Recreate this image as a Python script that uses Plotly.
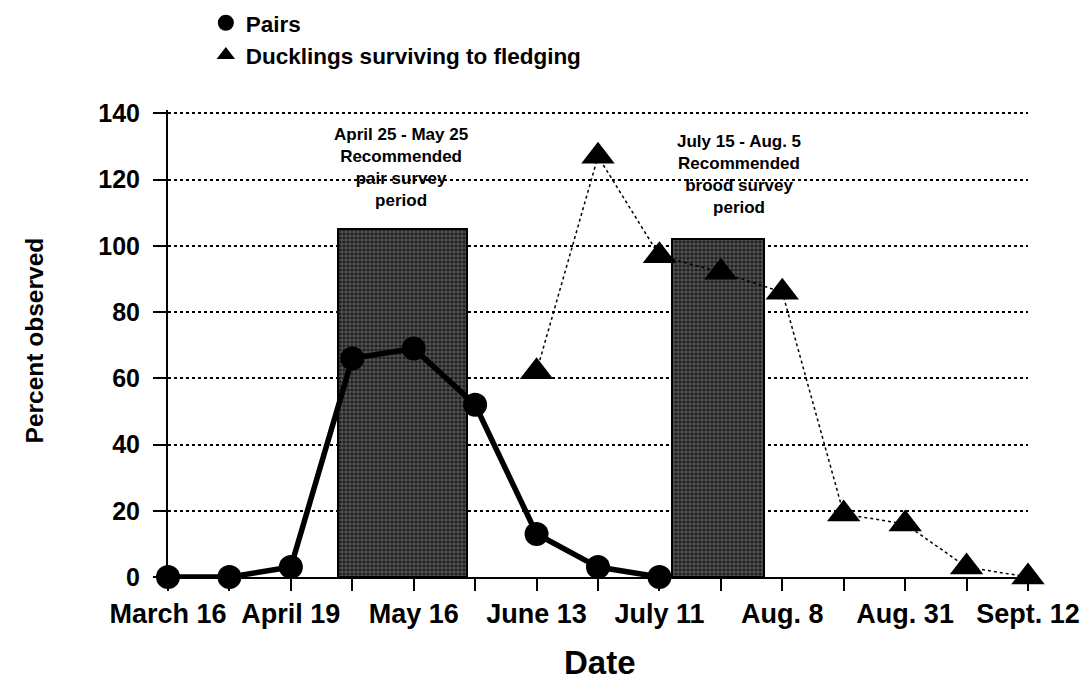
import plotly.graph_objects as go

# ---- data ----
idx = list(range(15))
tick_labels = ["March 16", "", "April 19", "", "May 16", "", "June 13", "",
               "July 11", "", "Aug. 8", "", "Aug. 31", "", "Sept. 12"]
y_ticks = [0, 20, 40, 60, 80, 100, 120, 140]
pairs_x = [0, 1, 2, 3, 4, 5, 6, 7, 8]
pairs_y = [0, 0, 3, 66, 69, 52, 13, 3, 0]
duck_x = [6, 7, 8, 9, 10, 11, 12, 13, 14]
duck_y = [62, 127, 97, 92, 86, 19, 16, 3, 0]
period_center = [3.82, 8.95]
period_width = [2.1, 1.5]
period_height = [105, 102]
period_text = ["April 25 - May 25<br>Recommended<br>pair survey<br>period",
               "July 15 - Aug. 5<br>Recommended<br>brood survey<br>period"]
period_text_x = [3.8, 9.3]
period_text_y = [137, 135]

FONT = "Liberation Sans, Arial, sans-serif"

fig = go.Figure()

fig.add_trace(go.Bar(
    x=period_center, y=period_height, width=period_width,
    marker=dict(color="#202020", line=dict(color="black", width=2),
                pattern=dict(shape="+", fgcolor="#d0d0d0", bgcolor="#202020",
                             size=4, solidity=0.3)),
    showlegend=False, hoverinfo="skip"))

fig.add_trace(go.Scatter(
    x=duck_x, y=duck_y, mode="lines+markers",
    line=dict(color="black", width=1.5, dash="dot"),
    marker=dict(symbol="triangle-up", size=29, color="black"),
    cliponaxis=False, showlegend=False))

fig.add_trace(go.Scatter(
    x=pairs_x, y=pairs_y, mode="lines+markers",
    line=dict(color="black", width=5.5),
    marker=dict(symbol="circle", size=24, color="black"),
    cliponaxis=False, showlegend=False))

# legend entries (marker only)
fig.add_trace(go.Scatter(x=[None], y=[None], mode="markers", name="Pairs",
                         marker=dict(symbol="circle", size=16, color="black")))
fig.add_trace(go.Scatter(x=[None], y=[None], mode="markers",
                         name="Ducklings surviving to fledging",
                         marker=dict(symbol="triangle-up", size=16, color="black")))

for tx, ty, t in zip(period_text_x, period_text_y, period_text):
    fig.add_annotation(x=tx, y=ty, text=t, showarrow=False, xanchor="center",
                       yanchor="top", align="center",
                       font=dict(family=FONT, size=17, color="black", weight="bold"))

fig.add_annotation(xref="paper", yref="paper", x=-0.155, y=0.506,
                   xanchor="center", yanchor="middle",
                   text="Percent observed", textangle=-90, showarrow=False,
                   font=dict(family=FONT, size=24.5, color="black", weight="bold"))
fig.add_annotation(xref="paper", yref="paper", x=0.502, y=-0.183,
                   xanchor="center", yanchor="middle",
                   text="Date", showarrow=False,
                   font=dict(family=FONT, size=33, color="black", weight="bold"))

# page body adds an 8px offset, so the figure is 8px smaller on each axis
fig.update_layout(
    width=1081, height=677, autosize=False,
    margin=dict(l=160, r=61, t=102, b=108, autoexpand=False),
    plot_bgcolor="white", paper_bgcolor="white",
    bargap=0,
    legend=dict(x=0.044, y=1.232, xanchor="left", yanchor="top",
                font=dict(family=FONT, size=22.5, color="black", weight="bold"),
                bgcolor="rgba(0,0,0,0)", tracegroupgap=0, itemwidth=30),
    xaxis=dict(range=[0, 14], tickvals=idx, ticktext=tick_labels,
               showgrid=False, zeroline=False, showline=True,
               linecolor="black", linewidth=2, ticks="outside", ticklen=12,
               tickwidth=2, tickcolor="black",
               tickfont=dict(family=FONT, size=27, color="black", weight="bold")),
    yaxis=dict(range=[0, 141], tickvals=y_ticks,
               showgrid=True, gridcolor="black", gridwidth=1.8, griddash="dot",
               zeroline=False, showline=True, linecolor="black", linewidth=2,
               ticks="outside", ticklen=13, tickwidth=2, tickcolor="black",
               ticklabelstandoff=8,
               tickfont=dict(family=FONT, size=25, color="black", weight="bold")),
)

fig.write_html("out.html")
